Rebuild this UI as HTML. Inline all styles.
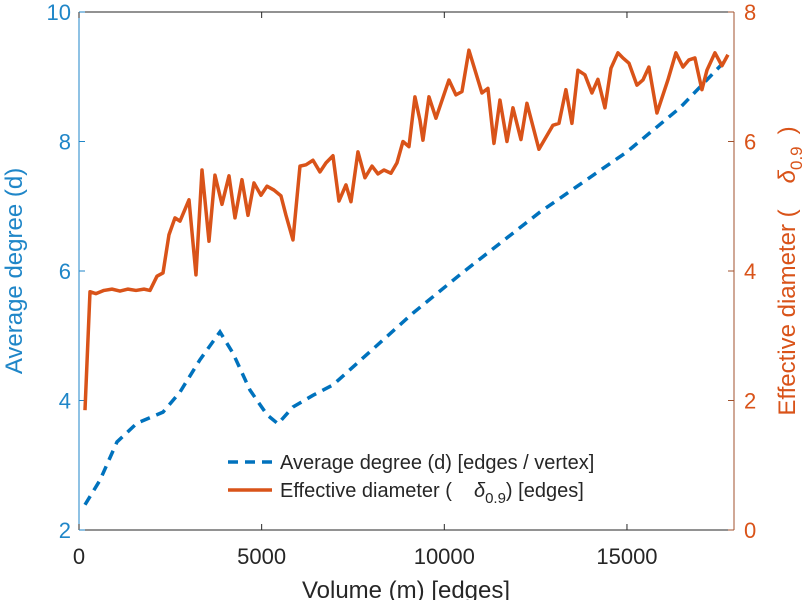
<!DOCTYPE html>
<html><head><meta charset="utf-8"><style>
body{margin:0;background:#fff;}
svg{display:block;font-family:"Liberation Sans",sans-serif;}
</style></head><body>
<svg id="chart" width="812" height="600">
<g id="axes"></g>
<g id="plot"></g>
<g id="legend">
  <line x1="228" y1="462" x2="272" y2="462" stroke="#0072BD" stroke-width="3.5" stroke-dasharray="10,7"/>
  <text x="280" y="469" font-size="20" fill="#262626">Average degree (d) [edges / vertex]</text>
  <line x1="228" y1="490" x2="272" y2="490" stroke="#D95319" stroke-width="3.5"/>
  <text x="280" y="497" font-size="20" fill="#262626">Effective diameter (<tspan dx="22" font-style="italic">δ</tspan><tspan font-size="15" dy="6">0.9</tspan><tspan dy="-6">) [edges]</tspan></text>
</g>
</svg>
<script>
const volumeBlue=[164,575,1040,1587,2299,2764,3312,3859,4215,4681,5146,5447,5857,6405,6952,9142,10510,12618,14999,16450,17764];
const avgDegree=[2.39,2.77,3.36,3.65,3.82,4.13,4.63,5.06,4.73,4.16,3.78,3.64,3.9,4.08,4.24,5.35,5.98,6.91,7.84,8.52,9.29];
const volumeOrange=[164,301,465,684,903,1122,1341,1560,1779,1943,2135,2299,2463,2627,2764,3011,3202,3367,3558,3722,3914,4106,4270,4461,4626,4790,4981,5146,5337,5529,5666,5857,6049,6213,6405,6596,6761,6952,7116,7308,7445,7636,7828,8020,8184,8348,8539,8704,8868,9032,9196,9333,9415,9580,9771,10127,10318,10483,10674,11030,11194,11359,11523,11715,11879,12098,12262,12590,12973,13138,13329,13493,13658,13849,14041,14205,14397,14561,14753,14889,15054,15273,15437,15601,15820,16121,16340,16532,16696,16860,17052,17189,17408,17600,17764];
const effDiameter=[1.85,3.68,3.65,3.7,3.72,3.69,3.72,3.7,3.72,3.7,3.92,3.97,4.56,4.82,4.77,5.1,3.94,5.56,4.46,5.48,5.03,5.47,4.82,5.41,4.86,5.36,5.17,5.31,5.25,5.16,4.86,4.48,5.62,5.64,5.71,5.53,5.67,5.78,5.08,5.33,5.07,5.84,5.44,5.62,5.5,5.56,5.51,5.67,6.0,5.92,6.69,6.33,6.02,6.69,6.36,6.95,6.72,6.77,7.41,6.75,6.82,5.97,6.64,6.0,6.52,6.03,6.59,5.88,6.25,6.28,6.8,6.28,7.1,7.03,6.75,6.96,6.52,7.13,7.37,7.29,7.21,6.87,6.95,7.15,6.44,6.95,7.37,7.15,7.26,7.29,6.8,7.1,7.37,7.17,7.34];
const xTicks=[0,5000,10000,15000];
const yLeftTicks=[2,4,6,8,10];
const yRightTicks=[0,2,4,6,8];

const L=79,R=734,T=12,B=530,XMAX=17930;
const BLUE='#1F86C8';
const X=v=>L+v/XMAX*(R-L);
const YL=v=>B-(v-2)/8*(B-T);
const YR=v=>B-v/8*(B-T);
const NS="http://www.w3.org/2000/svg";
function mk(parent,tag,attrs,txt){const e=document.createElementNS(NS,tag);for(const k in attrs)e.setAttribute(k,attrs[k]);if(txt!==undefined)e.textContent=txt;parent.appendChild(e);return e;}
const axes=document.getElementById('axes'),plot=document.getElementById('plot');
let e;
e=mk(axes,'line',{x1:L,y1:T,x2:R,y2:T,stroke:'#262626','stroke-width':1});


e=mk(axes,'line',{x1:L,y1:B,x2:R,y2:B,stroke:'#262626','stroke-width':1});


e=mk(axes,'line',{x1:L,y1:T,x2:L,y2:B,stroke:BLUE,'stroke-width':1});


e=mk(axes,'line',{x1:R,y1:T,x2:R,y2:B,stroke:'#A0522D','stroke-width':1});


xTicks.forEach(v=>{
  mk(axes,'line',{x1:X(v),y1:B,x2:X(v),y2:B-6,stroke:'#262626'});
  mk(axes,'line',{x1:X(v),y1:T,x2:X(v),y2:T+6,stroke:'#262626'});
  e=mk(axes,'text',{x:X(v),y:B+34,'font-size':22,fill:'#262626','text-anchor':'middle'},String(v));
  
  
});
yLeftTicks.forEach(v=>{
  mk(axes,'line',{x1:L,y1:YL(v),x2:L+6,y2:YL(v),stroke:BLUE});
  e=mk(axes,'text',{x:L-8,y:YL(v)+8,'font-size':22,fill:BLUE,'text-anchor':'end'},String(v));
  
  
});
yRightTicks.forEach(v=>{
  mk(axes,'line',{x1:R,y1:YR(v),x2:R-6,y2:YR(v),stroke:'#A0522D'});
  e=mk(axes,'text',{x:R+10,y:YR(v)+8,'font-size':22,fill:'#D95319','text-anchor':'start'},String(v));
  
  
});
e=mk(axes,'text',{x:406,y:598,'font-size':24,fill:'#262626','text-anchor':'middle'},'Volume (m) [edges]');


e=mk(axes,'text',{x:0,y:0,'font-size':24,fill:BLUE,'text-anchor':'middle',transform:'translate(22,271) rotate(-90)'},'Average degree (d)');


e=mk(axes,'text',{x:0,y:0,'font-size':24,fill:'#D95319','text-anchor':'middle',transform:'translate(795,271) rotate(-90)'});


e.innerHTML='Effective diameter (<tspan dx="26" font-style="italic">δ</tspan><tspan font-size="17" dy="7">0.9</tspan><tspan dy="-7" dx="12">)</tspan>';
e=mk(plot,'polyline',{points:volumeBlue.map((v,i)=>X(v)+','+YL(avgDegree[i])).join(' '),fill:'none',stroke:'#0072BD','stroke-width':3.5,'stroke-dasharray':'10,7'});


e=mk(plot,'polyline',{points:volumeOrange.map((v,i)=>X(v)+','+YR(effDiameter[i])).join(' '),fill:'none',stroke:'#D95319','stroke-width':3.5,'stroke-linejoin':'round'});


</script>
</body></html>
